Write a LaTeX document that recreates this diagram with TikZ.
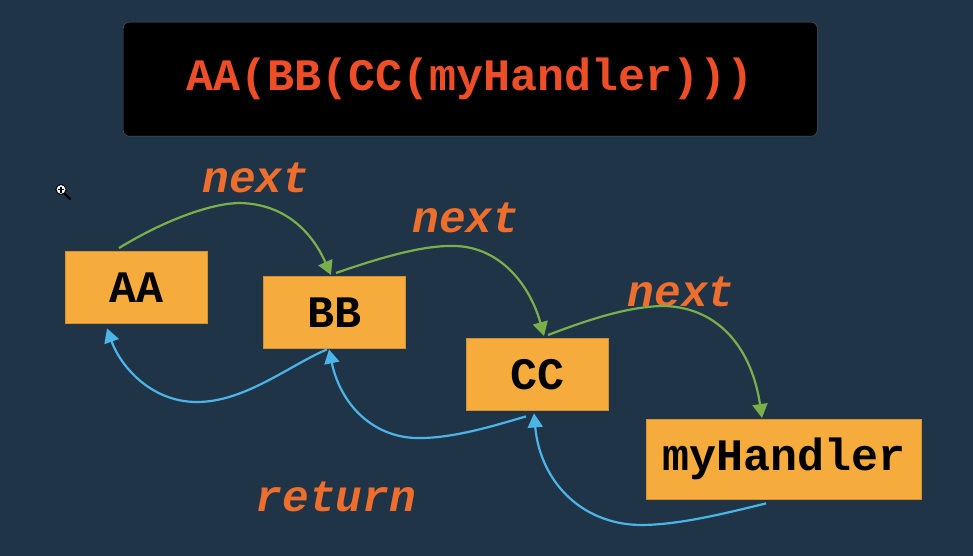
\documentclass[tikz,border=0pt]{standalone}
\usepackage{fontspec}
\setmonofont{Liberation Mono}
\usetikzlibrary{arrows.meta,calc}
\definecolor{bgc}{HTML}{203448}
\definecolor{boxc}{HTML}{F5AC3D}
\definecolor{titlec}{HTML}{EE4E27}
\definecolor{labelc}{HTML}{EE6E2D}
\definecolor{greenc}{HTML}{7AB04B}
\definecolor{bluec}{HTML}{4CB5E8}
\tikzset{
  x=1pt,y=-1pt,
  stagebox/.style={fill=boxc,draw=boxc!85!black,line width=0.4pt,inner sep=0,anchor=north west,font=\ttfamily\bfseries\fontsize{45}{45}\selectfont,text=black},
  steplabel/.style={text=labelc,inner sep=0,font=\ttfamily\bfseries\itshape\fontsize{44.5}{45}\selectfont},
  nextarrow/.style={draw=greenc,line width=2.2pt,-{Triangle[length=14pt,width=15pt]}},
  backarrow/.style={draw=bluec,line width=2.2pt,-{Triangle[length=14pt,width=15pt]}},
}
\begin{document}
\begin{tikzpicture}
\useasboundingbox (0,0) rectangle (973,556);
\fill[bgc] (0,0) rectangle (973,556);
\node[fill=black,draw=gray!60!bgc,line width=0.4pt,rounded corners=6pt,minimum width=694pt,minimum height=114pt,inner sep=0,anchor=north west,text=titlec,font=\ttfamily\bfseries\fontsize{45}{45}\selectfont] (title) at (123,22) {AA(BB(CC(myHandler)))};
\node[stagebox,minimum width=142pt,minimum height=72pt] (aa) at (65,251) {AA};
\node[stagebox,minimum width=142pt,minimum height=72pt] (bb) at (263,276) {BB};
\node[stagebox,minimum width=142pt,minimum height=72pt] (cc) at (466,338) {CC};
\node[stagebox,minimum width=275pt,minimum height=80pt] (mh) at (646,419) {myHandler};
\node[steplabel] (n1) at (256,178) {next};
\node[steplabel] (n2) at (466,218) {next};
\node[steplabel] (n3) at (681,292) {next};
\node[steplabel] (ret) at (336,497) {return};
% connector ends, anchored on the boxes
\coordinate (a1) at ($(aa.north west)+(54,-3)$);
\coordinate (b1) at ($(bb.north west)+(68,-1)$);
\coordinate (b2) at ($(bb.north west)+(73,-3)$);
\coordinate (c1) at ($(cc.north west)+(78,-2)$);
\coordinate (c2) at ($(cc.north west)+(82,-3)$);
\coordinate (m1) at ($(mh.north west)+(116,-1)$);
\coordinate (m2) at ($(mh.south west)+(120,4)$);
\coordinate (c3) at ($(cc.south west)+(68,3)$);
\coordinate (c4) at ($(cc.south west)+(60,6)$);
\coordinate (b3) at ($(bb.south west)+(66,1)$);
\coordinate (b4) at ($(bb.south west)+(64,1)$);
\coordinate (a2) at ($(aa.south west)+(42,5)$);
\draw[nextarrow] (a1) .. controls (170,217) and (215,203) .. (240,203) .. controls (285,204) and (312,232) .. (b1);
\draw[nextarrow] (b2) .. controls (385,256) and (425,245) .. (455,246) .. controls (500,247) and (530,285) .. (c1);
\draw[nextarrow] (c2) .. controls (590,319) and (630,306) .. (665,306) .. controls (720,308) and (752,350) .. (m1);
\draw[backarrow] (b4) .. controls (290,365) and (245,402) .. (197,402) .. controls (150,402) and (120,365) .. (a2);
\draw[backarrow] (c4) .. controls (490,427) and (450,439) .. (415,438) .. controls (370,436) and (340,402) .. (b3);
\draw[backarrow] (m2) .. controls (715,516) and (675,525) .. (640,525) .. controls (580,524) and (540,480) .. (c3);
% magnifier cursor
\draw[black,line width=2.2pt,line cap=round] (65,194) -- (70,199);
\fill[white,draw=black,line width=1pt] (61,189.5) circle (5pt);
\draw[black,line width=1.1pt] (58,189.5) -- (64,189.5) (61,186.5) -- (61,192.5);
\end{tikzpicture}
\end{document}
